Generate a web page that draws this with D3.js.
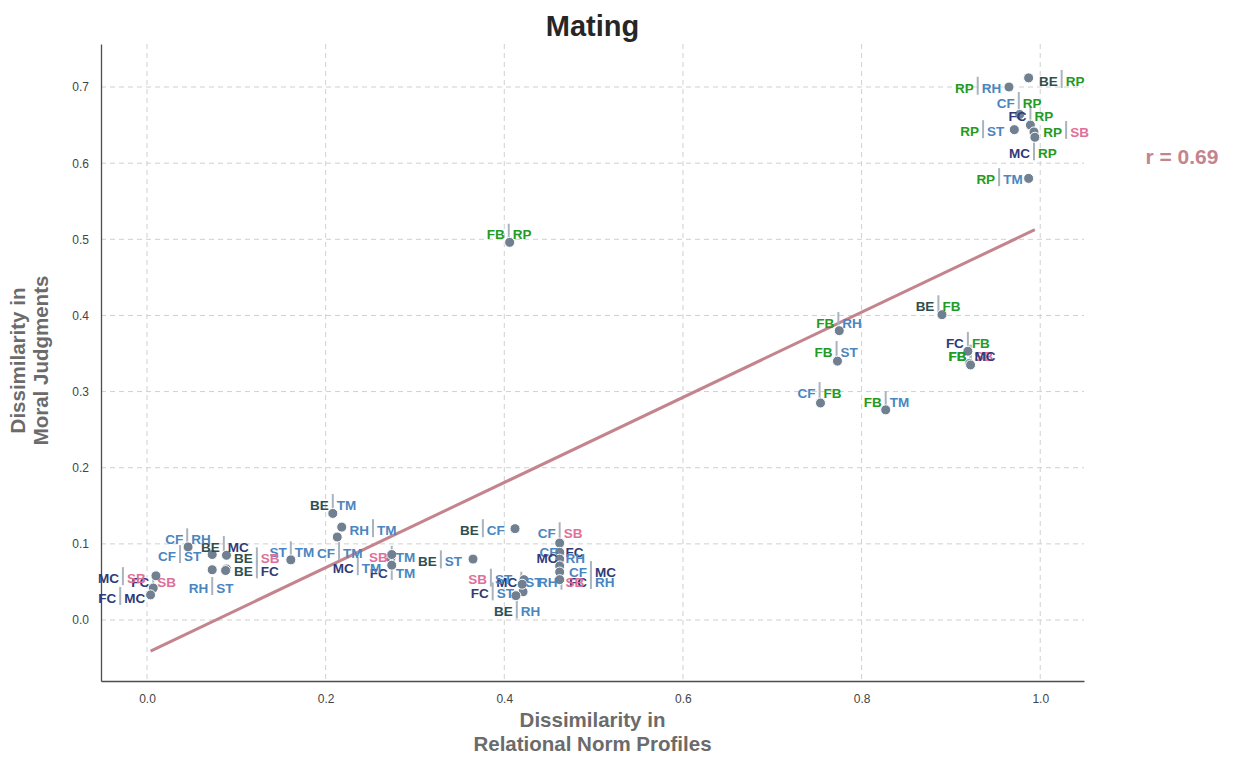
<!DOCTYPE html>
<html>
<head>
<meta charset="utf-8">
<script src="https://cdn.jsdelivr.net/npm/d3@7"></script>
<style>
  body { margin: 0; background: #fff; }
  text { font-family: "Liberation Sans", Arial, sans-serif; }
</style>
</head>
<body>
<div class="chart"></div>
<script>
// pair labels (left | right)
var leftCodes  = ["BE","RP","CF","FC","RP","RP","MC","RP","FB",
                  "BE","FB","FB","FC","FB","FB","CF","FB",
                  "BE","RH","CF","MC","SB","FC","ST",
                  "CF","CF","BE","BE","BE","RH","MC","FC","FC",
                  "BE","BE","CF","CF","MC","CF","FC","RH","SB","FC","MC","BE"];
var rightCodes = ["RP","RH","RP","RP","ST","SB","RP","TM","RP",
                  "FB","RH","ST","FB","SB","MC","FB","TM",
                  "TM","TM","TM","TM","TM","TM","TM",
                  "RH","ST","MC","SB","FC","ST","SB","SB","MC",
                  "ST","CF","SB","FC","RH","MC","RH","SB","ST","ST","ST","RH"];
// dissimilarity in relational norm profiles
var normDiss = [0.987,0.965,0.977,0.989,0.971,0.993,0.994,0.987,0.406,
                0.890,0.775,0.773,0.919,0.921,0.922,0.754,0.827,
                0.208,0.218,0.213,0.273,0.274,0.274,0.161,
                0.046,0.073,0.089,0.089,0.088,0.073,0.010,0.007,0.004,
                0.365,0.412,0.462,0.462,0.462,0.462,0.462,0.462,0.422,0.421,0.420,0.413];
// dissimilarity in moral judgments
var moralDiss = [0.712,0.700,0.664,0.650,0.644,0.641,0.634,0.580,0.496,
                 0.401,0.380,0.340,0.353,0.337,0.335,0.285,0.276,
                 0.140,0.122,0.109,0.081,0.086,0.072,0.079,
                 0.096,0.086,0.085,0.067,0.065,0.066,0.058,0.042,0.033,
                 0.080,0.120,0.101,0.089,0.080,0.071,0.063,0.053,0.053,0.037,0.047,0.032];
// where each label pair was placed (data units)
var labelX = [1.024,0.930,0.976,0.989,0.936,1.029,0.993,0.954,0.405,
              0.886,0.774,0.772,0.919,0.922,0.922,0.753,0.827,
              0.208,0.253,0.215,0.236,0.274,0.274,0.161,
              0.045,0.037,0.086,0.123,0.123,0.073,-0.027,0.007,-0.030,
              0.329,0.376,0.462,0.464,0.464,0.497,0.497,0.464,0.385,0.387,0.419,0.414];
var labelY = [0.708,0.699,0.679,0.661,0.642,0.641,0.613,0.579,0.506,
              0.412,0.390,0.352,0.364,0.347,0.347,0.298,0.286,
              0.151,0.118,0.088,0.068,0.083,0.062,0.089,
              0.106,0.084,0.096,0.081,0.064,0.042,0.055,0.049,0.029,
              0.077,0.118,0.114,0.089,0.081,0.063,0.050,0.049,0.053,0.035,0.049,0.011];

var xTicks = [0.0, 0.2, 0.4, 0.6, 0.8, 1.0];
var yTicks = [0.0, 0.1, 0.2, 0.3, 0.4, 0.5, 0.6, 0.7];
var fitSlope = 0.559, fitIntercept = -0.043;
var rText = "r = 0.69";

var codeColor = {
  RP: "#239b23", FB: "#239b23",
  RH: "#4a86bf", ST: "#4a86bf", CF: "#4a86bf", TM: "#4a86bf",
  BE: "#2f4f4f",
  FC: "#2f3a78", MC: "#2f3a78",
  SB: "#e0709a"
};

var svgWidth = 1237, svgHeight = 761;
var margin = {top: 44, right: 153, bottom: 80, left: 101};
var width = svgWidth - margin.left - margin.right;
var height = svgHeight - margin.top - margin.bottom;

var svg = d3.select(".chart").append("svg")
  .attr("width", svgWidth)
  .attr("height", svgHeight);

var chartGroup = svg.append("g")
  .attr("transform", `translate(${margin.left}, ${margin.top})`);

var x = d3.scaleLinear().domain([-0.0515, 1.049]).range([0, width]);
var y = d3.scaleLinear().domain([-0.0801, 0.7565]).range([height, 0]);

var pairs = leftCodes.map((l, i) => ({
  left: l, right: rightCodes[i],
  x: normDiss[i], y: moralDiss[i],
  lx: labelX[i], ly: labelY[i]
}));

// grid
chartGroup.append("g").selectAll("line").data(xTicks).enter().append("line")
  .attr("x1", d => x(d)).attr("x2", d => x(d))
  .attr("y1", 0).attr("y2", height)
  .attr("stroke", "#d0d0d0").attr("stroke-dasharray", "5,4").attr("stroke-width", 1);
chartGroup.append("g").selectAll("line").data(yTicks).enter().append("line")
  .attr("y1", d => y(d)).attr("y2", d => y(d))
  .attr("x1", 0).attr("x2", width)
  .attr("stroke", "#d0d0d0").attr("stroke-dasharray", "5,4").attr("stroke-width", 1);

// axes
var bottomAxis = d3.axisBottom(x).tickValues(xTicks).tickFormat(d3.format(".1f")).tickSize(0).tickPadding(13);
var leftAxis = d3.axisLeft(y).tickValues(yTicks).tickFormat(d3.format(".1f")).tickSize(0).tickPadding(12);

var gx = chartGroup.append("g").attr("transform", `translate(0, ${height})`).call(bottomAxis);
var gy = chartGroup.append("g").call(leftAxis);
[gx, gy].forEach(g => {
  g.select(".domain").attr("stroke", "#4d4d4d").attr("stroke-width", 1.3);
  g.selectAll("text").attr("fill", "#444").attr("font-size", 12)
    .attr("font-family", "'Liberation Sans', Arial, sans-serif");
});

// regression line
var xExt = d3.extent(normDiss);
chartGroup.append("line")
  .attr("x1", x(xExt[0])).attr("y1", y(fitIntercept + fitSlope * xExt[0]))
  .attr("x2", x(xExt[1])).attr("y2", y(fitIntercept + fitSlope * xExt[1]))
  .attr("stroke", "#c4848e").attr("stroke-width", 3);

// label separators
chartGroup.append("g").selectAll("line").data(pairs).enter().append("line")
  .attr("x1", d => x(d.lx)).attr("x2", d => x(d.lx))
  .attr("y1", d => y(d.ly) - 11).attr("y2", d => y(d.ly) + 7)
  .attr("stroke", "#a9b4bf").attr("stroke-width", 2);

// points
chartGroup.append("g").selectAll("circle").data(pairs).enter().append("circle")
  .attr("cx", d => x(d.x)).attr("cy", d => y(d.y))
  .attr("r", 5)
  .attr("fill", "#708090")
  .attr("stroke", "#fff").attr("stroke-width", 1);

// labels
var labels = chartGroup.append("g");
labels.selectAll(".lt").data(pairs).enter().append("text")
  .attr("x", d => x(d.lx) - 4).attr("y", d => y(d.ly))
  .attr("dy", "0.35em")
  .attr("text-anchor", "end")
  .attr("font-size", 13.5).attr("font-weight", "bold")
  .attr("fill", d => codeColor[d.left])
  .text(d => d.left);
labels.selectAll(".rt").data(pairs).enter().append("text")
  .attr("x", d => x(d.lx) + 4).attr("y", d => y(d.ly))
  .attr("dy", "0.35em")
  .attr("text-anchor", "start")
  .attr("font-size", 13.5).attr("font-weight", "bold")
  .attr("fill", d => codeColor[d.right])
  .text(d => d.right);

// title
svg.append("text")
  .attr("x", margin.left + width / 2).attr("y", 36)
  .attr("text-anchor", "middle")
  .attr("font-size", 29).attr("font-weight", "bold").attr("fill", "#262626")
  .text("Mating");

// r value
svg.append("text")
  .attr("x", 1182).attr("y", 164)
  .attr("text-anchor", "middle")
  .attr("font-size", 21).attr("font-weight", "bold").attr("fill", "#c4848e")
  .text(rText);

// axis titles
var xTitle = svg.append("text")
  .attr("text-anchor", "middle")
  .attr("font-size", 20.5).attr("font-weight", "bold").attr("fill", "#6b6b6b");
xTitle.append("tspan").attr("x", margin.left + width / 2).attr("y", 727).text("Dissimilarity in");
xTitle.append("tspan").attr("x", margin.left + width / 2).attr("y", 751).text("Relational Norm Profiles");

var yTitle = svg.append("text")
  .attr("transform", `translate(0, ${margin.top + height / 2 - 2}) rotate(-90)`)
  .attr("text-anchor", "middle")
  .attr("font-size", 20.5).attr("font-weight", "bold").attr("fill", "#6b6b6b");
yTitle.append("tspan").attr("x", 0).attr("y", 25).text("Dissimilarity in");
yTitle.append("tspan").attr("x", 0).attr("y", 48).text("Moral Judgments");
</script>
</body>
</html>
